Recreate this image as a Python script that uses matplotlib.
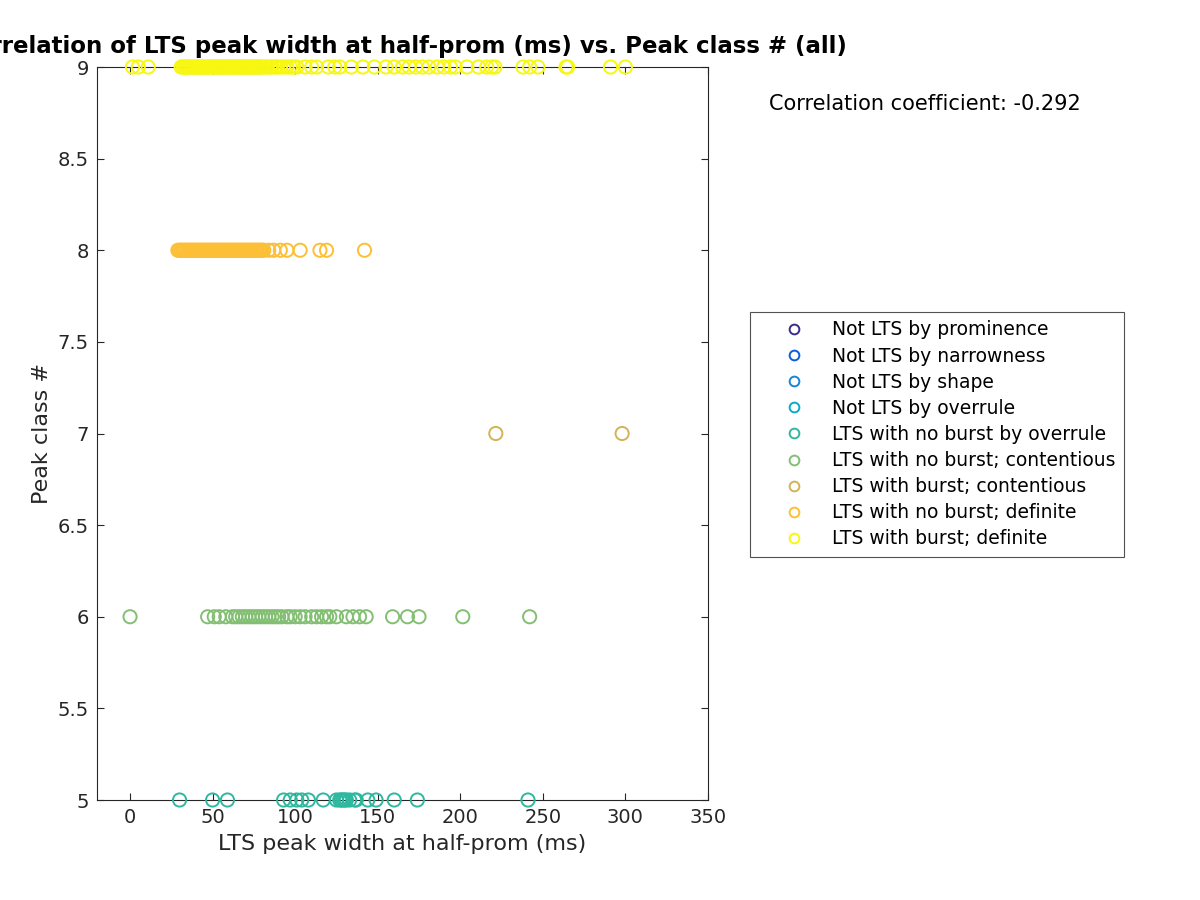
import matplotlib
matplotlib.use('Agg')
import matplotlib.pyplot as plt
from matplotlib.lines import Line2D

# ---- data ----
class_labels = [
    "Not LTS by prominence",
    "Not LTS by narrowness",
    "Not LTS by shape",
    "Not LTS by overrule",
    "LTS with no burst by overrule",
    "LTS with no burst; contentious",
    "LTS with burst; contentious",
    "LTS with no burst; definite",
    "LTS with burst; definite",
]
class_numbers = [1, 2, 3, 4, 5, 6, 7, 8, 9]
class_colors = ["#3B2A90", "#0A5CE0", "#1585D8", "#0AAAC8", "#2FB8A0",
                "#82BF72", "#D2B455", "#FCBF35", "#F7F711"]

class1_x = []
class2_x = []
class3_x = []
class4_x = []
class5_x = [30, 50, 59, 93, 97, 101, 104, 108, 117, 125, 127, 128, 129, 130,
            131, 133, 136, 137, 144, 149, 160, 174, 241]
class6_x = [0, 47, 51, 54, 58, 62, 64, 66, 68, 70, 72, 74, 76, 78, 80, 82, 84,
            86, 88, 90, 92, 95, 97, 100, 103, 106, 110, 113, 116, 119, 121,
            125, 131, 135, 139, 143, 159, 168, 175, 201.5, 242]
class7_x = [221.5, 298]
class8_x = [29, 30, 31, 32, 33, 34, 35, 36, 37, 38, 39, 40, 41, 42, 43, 44, 45,
            46, 47, 48, 49, 50, 51, 52, 53, 54, 55, 56, 57, 58, 59, 60, 61, 62,
            63, 64, 65, 66, 67, 68, 69, 70, 71, 72, 73, 74, 75, 76, 77, 78, 79,
            80, 81, 84, 87, 91, 95, 103, 115, 119, 142]
class9_x = [1.5, 5, 11, 31, 32, 33, 34, 35, 36, 37, 38, 39, 40, 41, 42, 43, 44,
            45, 46, 47, 48, 49, 50, 51, 52, 53, 54, 55, 56, 57, 58, 59, 60, 61,
            62, 63, 64, 65, 66, 67, 68, 69, 70, 71, 72, 73, 74, 75, 76, 77, 78,
            79, 80, 82, 83, 85, 86, 88, 89, 91, 93, 95, 97, 99, 101, 106, 110,
            113, 120, 124, 127, 134, 141, 148, 155, 160, 165, 169, 173, 177,
            181, 186, 190, 194, 197, 204, 211, 216, 219, 221, 238, 242, 247,
            264, 265, 291, 300]
class_x = [class1_x, class2_x, class3_x, class4_x, class5_x, class6_x,
           class7_x, class8_x, class9_x]

corr_text = "Correlation coefficient: -0.292"
title_text = "Correlation of LTS peak width at half-prom (ms) vs. Peak class # (all)"
x_label = "LTS peak width at half-prom (ms)"
y_label = "Peak class #"
x_ticks = [0, 50, 100, 150, 200, 250, 300, 350]
y_ticks = [5, 5.5, 6, 6.5, 7, 7.5, 8, 8.5, 9]
y_tick_labels = ["5", "5.5", "6", "6.5", "7", "7.5", "8", "8.5", "9"]

# ---- figure ----
axcol = "#262626"
plt.rcParams['font.family'] = ['DejaVu Sans']
fig = plt.figure(figsize=(12, 9), dpi=100)
ax = fig.add_axes([97 / 1200, 100 / 900, 611 / 1200, 733 / 900])

handles = []
for num, lab, col, xs in zip(class_numbers, class_labels, class_colors, class_x):
    if len(xs) > 0:
        ax.scatter(xs, [num] * len(xs), s=90, facecolors='none', edgecolors=col,
                   linewidths=1.4, clip_on=False, zorder=3)
    handles.append(Line2D([], [], linestyle='none', marker='o', markersize=7,
                          markerfacecolor='none', markeredgecolor=col,
                          markeredgewidth=1.4, label=lab))

ax.set_xlim(-20, 350)
ax.set_ylim(5, 9)
ax.set_xticks(x_ticks)
ax.set_xticklabels([str(t) for t in x_ticks])
ax.set_yticks(y_ticks)
ax.set_yticklabels(y_tick_labels)
ax.tick_params(direction='in', top=True, right=True, length=5, width=0.8,
               labelsize=14, colors=axcol, labelcolor=axcol, pad=6)
for sp in ax.spines.values():
    sp.set_color(axcol)
    sp.set_linewidth(0.8)

ax.set_xlabel(x_label, fontsize=16, color=axcol, labelpad=5)
ax.set_ylabel(y_label, fontsize=16, color=axcol, labelpad=4)
ax.set_title(title_text, fontsize=16.5, fontweight='bold', pad=10)

fig.text(769 / 1200, 1 - 104 / 900, corr_text, fontsize=15,
         ha='left', va='center', color='black')

leg = ax.legend(handles=handles, loc='upper left',
                bbox_to_anchor=(750 / 1200, 1 - 312 / 900),
                bbox_transform=fig.transFigure, fontsize=13.5, frameon=True,
                fancybox=False, edgecolor=axcol,
                labelspacing=0.38, handletextpad=0.1, borderpad=0.45,
                handlelength=3.8, borderaxespad=0)
leg.get_frame().set_linewidth(0.8)

fig.savefig('out.png', dpi=100)
